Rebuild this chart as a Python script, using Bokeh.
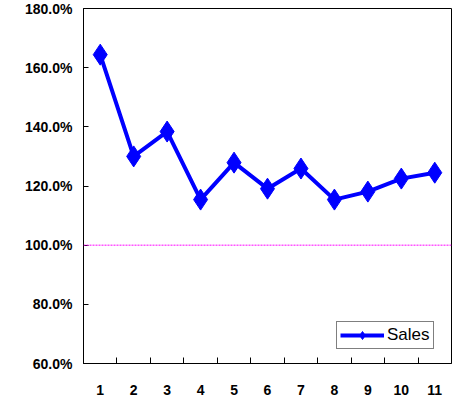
from bokeh.plotting import figure
from bokeh.models import FixedTicker, PrintfTickFormatter, Span, Range1d, Legend
from bokeh.embed import file_html
from bokeh.resources import INLINE

categories = [1, 2, 3, 4, 5, 6, 7, 8, 9, 10, 11]
sales = [164.4, 130.0, 138.4, 115.4, 127.9, 119.1, 125.9, 115.4, 118.1, 122.5, 124.5]
y_ticks = [60, 80, 100, 120, 140, 160, 180]
x_minor_ticks = [1.5, 2.5, 3.5, 4.5, 5.5, 6.5, 7.5, 8.5, 9.5, 10.5]
reference_level = 100
series_name = "Sales"

p = figure(width=455, height=408, output_backend="svg", toolbar_location=None,
           x_range=Range1d(0.5, 11.5), y_range=Range1d(60, 180),
           min_border_left=83, min_border_right=4, min_border_top=8, min_border_bottom=45)
p.background_fill_color = "white"
p.border_fill_color = "white"
p.outline_line_color = "black"
p.outline_line_width = 1
p.xgrid.visible = False
p.ygrid.visible = False

font = "Liberation Sans"

# X axis
p.xaxis.ticker = FixedTicker(ticks=categories, minor_ticks=x_minor_ticks)
p.xaxis.major_tick_in = 0
p.xaxis.major_tick_out = 0
p.xaxis.minor_tick_in = 6
p.xaxis.minor_tick_out = 0
p.xaxis.minor_tick_line_color = "black"
p.xaxis.axis_line_color = "black"
p.xaxis.major_label_standoff = 21
p.xaxis.major_label_text_font = font
p.xaxis.major_label_text_font_style = "bold"
p.xaxis.major_label_text_font_size = "14px"
p.xaxis.major_label_text_color = "black"

# Y axis
p.yaxis.ticker = FixedTicker(ticks=y_ticks, minor_ticks=[])
p.yaxis.formatter = PrintfTickFormatter(format="%.1f%%")
p.yaxis.major_tick_in = 5
p.yaxis.major_tick_out = 0
p.yaxis.minor_tick_line_color = None
p.yaxis.axis_line_color = "black"
p.yaxis.major_label_standoff = 11
p.yaxis.major_label_text_font = font
p.yaxis.major_label_text_font_style = "bold"
p.yaxis.major_label_text_font_size = "14px"
p.yaxis.major_label_text_color = "black"

# Reference line
p.add_layout(Span(location=reference_level, dimension="width", line_color="#FF00FF",
                  line_width=1, line_dash="2 1"))

r_line = p.line(categories, sales, line_color="#0000FF", line_width=4)
r_pts = p.scatter(categories, sales, marker="diamond", size=21, fill_color="#0000FF",
                  line_color="#0000FF")

legend = Legend(items=[(series_name, [r_line, r_pts])], location=(253, 14))
legend.margin = 0
legend.padding = 3
legend.spacing = 0
legend.glyph_width = 44
legend.glyph_height = 20
legend.label_height = 20
legend.label_standoff = 3
legend.label_text_font = font
legend.label_text_font_size = "17px"
legend.label_text_color = "black"
legend.border_line_color = "black"
legend.border_line_width = 1
legend.background_fill_alpha = 1
p.add_layout(legend, "center")

open("out.html", "w").write(file_html(p, INLINE))
